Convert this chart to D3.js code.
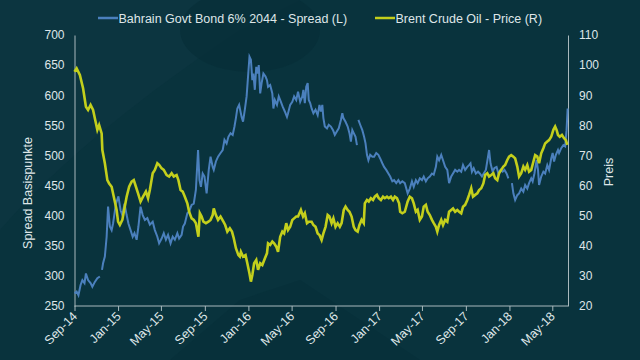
<!DOCTYPE html>
<html><head><meta charset="utf-8">
<script src="https://cdn.jsdelivr.net/npm/d3@7"></script>
<style>html,body{margin:0;padding:0;background:#0c3540;}svg{display:block;}</style>
</head><body>
<svg id="c" width="640" height="360"></svg>
<script>
// Dates are given as days since the series start (2014-09-01)
const startDate = new Date(2014, 8, 1);
const seriesNames = ["Bahrain Govt Bond 6% 2044 - Spread (L)", "Brent Crude Oil - Price (R)"];
const xTickLabels = ["Sep-14","Jan-15","May-15","Sep-15","Jan-16","May-16","Sep-16","Jan-17","May-17","Sep-17","Jan-18","May-18"];
const leftTicks = [250,300,350,400,450,500,550,600,650,700];
const rightTicks = [20,30,40,50,60,70,80,90,100,110];

const spreadDay = [0,6,11,17,22,28,32,38,45,50,57,64,71,74,77,80,85,90,94,99,104,108,116,123,129,134,140,146,151,157,163,168,174,179,185,191,197,204,211,219,225,232,237,244,250,256,262,269,275,281,288,293,300,304,309,316,321,328,334,340,346,350,354,359,364,370,376,381,387,390,396,402,409,415,420,426,431,437,443,448,452,456,461,
468,472,477,482,486,490,494,498,501,505,509,513,516,520,524,529,535,539,542,548,554,557,561,567,572,578,583,589,595,598,604,610,615,621,626,632,638,641,645,649,653,656,660,664,669,675,681,686,690,694,697,701,707,712,718,724,729,735,740,746,750,753,759,765,770,774,778,782,787,791,793,795,800,806,811,815,819,823,828,834,839,845,851,856,862,867,873,879,884,890,895,901,907,912,918,925,
933,939,945,950,956,961,967,973,978,984,989,995,1001,1006,1012,1016,1021,1027,1032,1038,1044,1049,1055,1060,1066,1072,1077,1083,1088,1094,1100,1105,1109,1113,1118,1124,1130,1135,1141,1146,1152,1158,1161,1165,1171,1176,1182,1187,1193,1199,1204,1210,1215,1220,1225,1229,1234,1240,1245,1251,1257,1262,1268,1273,1279,1283,1288,1294,1298,1301,1307,1313,1318,1324,1329,1335,1339,1343,1348,1354,1357,1363,1369,1374,1378,1381];
const spreadBp = [271,274,268,285,293,288,304,293,288,282,290,296,299,null,310,321,332,365,415,382,376,387,420,432,409,401,420,401,387,376,365,371,360,382,415,401,393,396,385,390,376,365,354,362,371,360,368,354,365,360,371,362,368,382,387,404,407,418,420,443,509,459,448,470,465,437,476,498,481,476,490,498,504,509,526,520,531,537,534,548,562,578,584,
564,556,576,598,631,664,659,625,636,609,647,636,650,603,620,636,631,625,614,617,603,578,592,584,598,589,581,573,564,570,584,589,598,592,606,589,598,609,587,614,620,592,587,578,570,576,567,584,573,584,562,548,545,551,548,542,534,540,545,559,570,562,556,548,537,523,542,537,531,517,null,559,551,542,531,520,501,492,501,498,498,504,501,495,487,481,476,470,465,457,459,454,459,454,457,454,
437,445,457,448,459,454,462,459,465,457,462,465,470,468,481,498,492,501,492,481,476,454,465,470,476,473,476,473,484,476,481,484,487,473,479,470,473,470,465,470,476,498,509,487,473,479,481,470,476,473,476,470,462,null,454,437,426,434,437,445,440,451,445,454,462,457,470,492,476,451,465,473,470,484,476,495,504,490,501,509,504,512,517,515,542,578];

const brentDay = [0,6,15,24,32,38,45,52,58,64,69,76,78,85,92,97,104,110,118,122,127,134,139,146,153,160,166,172,178,185,192,200,206,211,219,225,232,237,244,250,258,265,272,278,286,291,297,303,309,316,321,328,334,340,347,351,356,361,368,375,381,387,390,396,402,409,417,422,428,435,441,446,452,459,463,
466,472,479,484,490,494,498,503,509,514,520,526,533,539,542,548,554,559,565,570,576,582,587,593,598,604,610,615,621,626,634,640,645,651,656,664,669,675,681,686,692,697,703,709,714,720,725,731,737,743,748,754,759,765,770,776,782,787,793,798,804,810,813,819,824,830,836,841,847,852,858,864,869,875,880,886,892,897,903,909,912,918,925,
933,939,945,950,956,961,967,973,978,984,989,995,1001,1006,1012,1016,1021,1027,1032,1038,1044,1049,1055,1060,1066,1072,1077,1083,1088,1094,1100,1105,1111,1116,1122,1128,1133,1139,1145,1150,1156,1161,1167,1173,1178,1184,1189,1195,1201,1206,1212,1217,1223,1229,1234,1240,1245,1251,1257,1262,1268,1273,1279,1285,1290,1296,1301,1307,1313,1318,1324,1329,1335,1341,1346,1350,1354,1359,1365,1371,1376,1380];
const brentUsd = [97.8,98.9,96.7,92.3,86.2,85.1,86.8,85.1,81.8,78.5,80.1,77.3,71.8,67.4,61.8,60.7,59.6,56.3,51.9,48.0,46.9,48.6,51.9,56.3,59.6,61.3,61.8,59.6,57.4,54.7,56.3,58.0,55.8,58.5,64.1,65.2,67.4,66.9,65.7,65.2,63.5,63.0,64.1,63.0,63.5,61.8,58.5,58.0,56.3,54.1,51.3,49.1,48.6,47.5,43.0,50.8,49.7,48.0,47.5,48.0,48.6,50.2,52.4,50.2,48.6,49.7,48.0,46.9,44.7,45.8,44.7,42.5,39.2,36.9,36.4,
38.0,36.4,36.9,34.2,30.8,28.1,30.3,34.2,35.3,32.0,34.2,33.6,35.8,37.5,40.8,40.3,41.4,40.8,39.7,38.0,43.0,44.7,44.1,47.5,45.2,46.3,48.6,49.1,49.7,49.7,51.9,49.7,50.8,47.5,48.0,48.0,46.9,46.3,44.1,43.6,41.9,44.1,46.3,50.2,49.7,47.5,49.1,46.3,47.5,46.3,47.5,51.9,53.0,51.9,51.3,49.7,46.3,45.2,44.7,46.9,48.6,47.5,54.1,55.2,54.7,55.8,55.2,56.3,56.9,55.8,55.2,56.3,55.8,56.3,55.8,56.3,55.2,56.3,55.8,54.1,51.3,50.8,51.3,
54.7,56.3,55.8,54.1,51.3,51.9,48.6,49.7,53.0,53.6,51.3,50.2,48.6,47.5,46.3,44.7,46.9,48.6,46.9,48.6,48.0,51.3,51.9,52.4,51.3,51.9,51.3,50.8,53.0,53.6,55.2,56.9,59.1,56.3,56.9,57.4,58.5,59.1,60.7,63.5,64.1,63.0,63.5,64.1,62.4,61.8,64.1,65.2,66.3,66.8,68.5,69.6,70.1,69.6,69.0,66.3,63.0,64.1,66.3,65.2,66.8,64.6,65.2,67.9,70.1,69.6,67.4,70.7,72.4,74.0,74.6,75.1,76.2,78.5,79.6,78.5,76.8,76.2,76.8,75.7,75.1,73.5];

const colors = {spread: "#4b80bd", brent: "#c3cf1c", text: "#dfe6e8", axis: "#a9b9bd", bg: "#0c3540"};

const svg = d3.select("#c");
const W = 640, H = 360;
const m = {left: 74.5, right: 72, top: 35, bottom: 54};
const font = "Liberation Sans, Arial, sans-serif";

// background with subtle decorative shapes
svg.append("rect").attr("width", W).attr("height", H).attr("fill", colors.bg);
svg.append("path").attr("d", "M0,360 L0,230 C60,160 150,90 240,30 L300,0 L640,0 L640,360 Z").attr("fill", "#08313b").attr("opacity", 0.55);
svg.append("ellipse").attr("cx", 250).attr("cy", 30).attr("rx", 70).attr("ry", 42).attr("fill", "#062d37").attr("opacity", 0.6);
svg.append("path").attr("d", "M170,360 L240,300 L300,280 L420,360 Z").attr("fill", "#062d37").attr("opacity", 0.5);

const end = d3.timeDay.offset(startDate, 1382);
const x = d3.scaleTime().domain([startDate, end]).range([m.left, W - m.right]);
const yL = d3.scaleLinear().domain([250, 700]).range([H - m.bottom, m.top]);
const yR = d3.scaleLinear().domain([20, 110]).range([H - m.bottom, m.top]);

const spread = spreadDay.map((d, i) => ({date: d3.timeDay.offset(startDate, d), v: spreadBp[i]}));
const brent = brentDay.map((d, i) => ({date: d3.timeDay.offset(startDate, d), v: brentUsd[i]}));

// axes
const xTicks = d3.timeMonth.range(startDate, end, 4);
const xAxis = svg.append("g").attr("transform", `translate(0,${H - m.bottom})`)
  .call(d3.axisBottom(x).tickValues(xTicks).tickSize(5).tickFormat((d, i) => xTickLabels[i]));
xAxis.selectAll("text").attr("fill", colors.text).attr("font-size", 12.5)
  .attr("font-family", font)
  .attr("text-anchor", "end").attr("dy", 0).attr("y", 0).attr("x", 0)
  .attr("transform", "translate(3,11) rotate(-45)");
xAxis.selectAll("line").attr("stroke", colors.axis);
xAxis.select(".domain").attr("stroke", colors.axis).attr("d", `M${m.left},0H${W - m.right}`);

const lAxis = svg.append("g").attr("transform", `translate(${m.left},0)`)
  .call(d3.axisLeft(yL).tickValues(leftTicks).tickSize(0).tickPadding(10));
lAxis.selectAll("text").attr("fill", colors.text).attr("font-size", 12).attr("font-family", font);
lAxis.select(".domain").attr("stroke", colors.axis);

const rAxis = svg.append("g").attr("transform", `translate(${W - m.right},0)`)
  .call(d3.axisRight(yR).tickValues(rightTicks).tickSize(0).tickPadding(11));
rAxis.selectAll("text").attr("fill", colors.text).attr("font-size", 12).attr("font-family", font);
rAxis.select(".domain").attr("stroke", colors.axis);

// lines
const lineL = d3.line().defined(d => d.v != null).x(d => x(d.date)).y(d => yL(d.v));
const lineR = d3.line().defined(d => d.v != null).x(d => x(d.date)).y(d => yR(d.v));
svg.append("path").datum(spread).attr("d", lineL).attr("fill", "none")
  .attr("stroke", colors.spread).attr("stroke-width", 2).attr("stroke-linejoin", "miter");
svg.append("path").datum(brent).attr("d", lineR).attr("fill", "none")
  .attr("stroke", colors.brent).attr("stroke-width", 2.6).attr("stroke-linejoin", "miter");

// axis titles
svg.append("text").attr("transform", "translate(32,193) rotate(-90)").attr("text-anchor", "middle")
  .attr("fill", colors.text).attr("font-size", 12.5).attr("font-family", font)
  .text("Spread Basispunkte");
svg.append("text").attr("transform", "translate(613,172) rotate(-90)").attr("text-anchor", "middle")
  .attr("fill", colors.text).attr("font-size", 12.5).attr("font-family", font)
  .text("Preis");

// legend
const legend = [{name: seriesNames[0], c: colors.spread, x: 98}, {name: seriesNames[1], c: colors.brent, x: 375}];
legend.forEach(l => {
  svg.append("line").attr("x1", l.x).attr("x2", l.x + 20).attr("y1", 18).attr("y2", 18)
    .attr("stroke", l.c).attr("stroke-width", 2.5);
  svg.append("text").attr("x", l.x + 20.5).attr("y", 22.5).attr("fill", colors.text)
    .attr("font-size", 12.5).attr("font-family", font).text(l.name);
});
</script>
</body></html>
